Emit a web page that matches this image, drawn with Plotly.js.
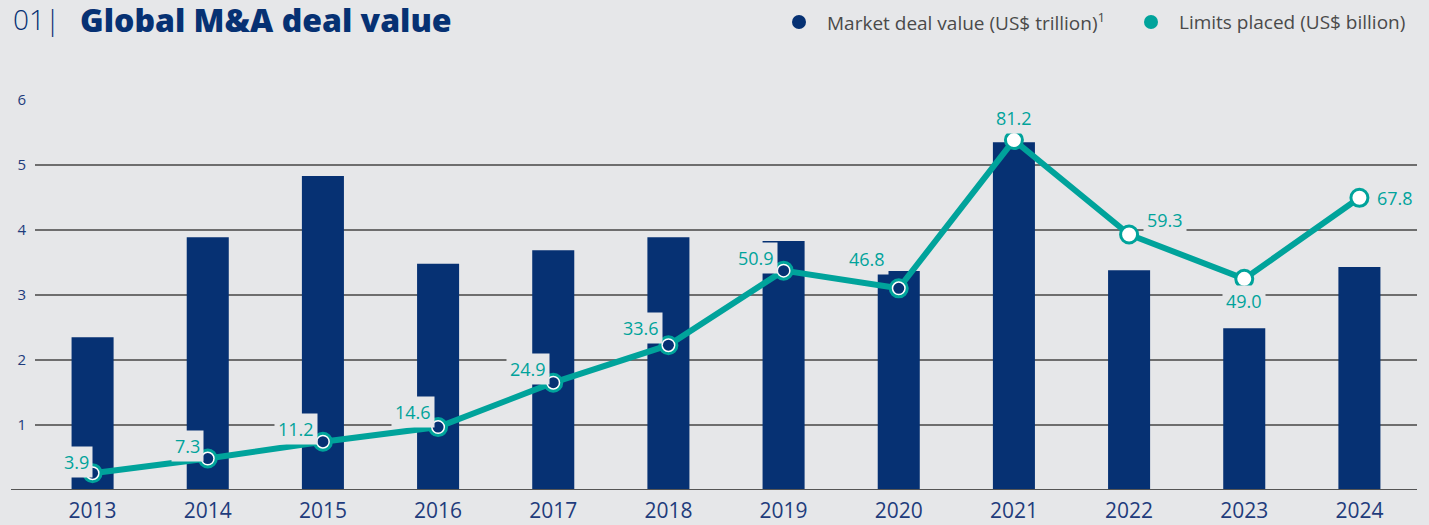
<!DOCTYPE html>
<html>
<head>
<meta charset="utf-8">
<script src="https://cdn.plot.ly/plotly-3.0.1.min.js"></script>
<style>
  html, body { margin: 0; padding: 0; background: #e6e7e9; }
  #chart { width: 1429px; height: 525px; }
</style>
</head>
<body>
<div id="chart"></div>
<script>
// ---- data ----
const years = ['2013','2014','2015','2016','2017','2018','2019','2020','2021','2022','2023','2024'];
const dealValue = [2.35, 3.89, 4.83, 3.48, 3.69, 3.89, 3.83, 3.37, 5.35, 3.38, 2.49, 3.43];   // US$ trillion
const limitsPlaced = [3.9, 7.3, 11.2, 14.6, 24.9, 33.6, 50.9, 46.8, 81.2, 59.3, 49.0, 67.8]; // US$ billion
const limitLabels = ['3.9','7.3','11.2','14.6','24.9','33.6','50.9','46.8','81.2','59.3','49.0','67.8'];
const yTicks = [1, 2, 3, 4, 5, 6];
const seriesNames = ['Market deal value (US$ trillion)<sup>1</sup>', 'Limits placed (US$ billion)'];
const chartNumber = '01|';
const chartTitle = 'Global M&amp;A deal value';

// ---- styles ----
const BG = '#e6e7e9';
const NAVY = '#063173';
const TEAL = '#00a39b';
const TXT_NAVY = '#1f3c7c';
const FILLED_COUNT = 8; // first points drawn with navy centres, the rest hollow
// label placement: [xanchor, dx (text edge offset px), dy (text centre offset px, up +)]
const labelPlace = [
  ['right', -3, 11], ['right', -7, 13], ['right', -8, 13], ['right', -6, 15],
  ['right', -6, 14], ['right', -8, 17], ['right', -9, 13], ['right', -13, 29],
  ['center', 0, 22], ['left', 17, 14], ['center', 0, -22], ['left', 17, 0]
];
const PAD = 3;

const L = 35, R = 12, T = 100, B = 35, W = 1429, H = 525;
const PW = W - L - R, PH = H - T - B;
const px = x => (x - L) / PW;
const py = y => (H - B - y) / PH;

const traces = [
  {
    type: 'bar', x: years, y: dealValue, width: 0.365,
    marker: { color: NAVY }, hoverinfo: 'skip', showlegend: false
  },
  {
    type: 'scatter', mode: 'lines+markers', x: years, y: limitsPlaced, yaxis: 'y2',
    line: { color: TEAL, width: 6 },
    marker: { size: 17, color: '#ffffff', line: { color: TEAL, width: 3 } },
    hoverinfo: 'skip', showlegend: false, cliponaxis: false
  }
];

const shapes = [
  { type: 'line', xref: 'paper', yref: 'y', x0: px(11), x1: 1, y0: 0, y1: 0,
    line: { color: '#555555', width: 2 }, layer: 'above' }
];
// navy centres of the filled points, placed on the data through the axes
limitsPlaced.slice(0, FILLED_COUNT).forEach((v, i) => {
  shapes.push({
    type: 'circle', xref: 'x', yref: 'y2', xsizemode: 'pixel', ysizemode: 'pixel',
    xanchor: i, yanchor: v, x0: -5.5, x1: 5.5, y0: -5.5, y1: 5.5,
    fillcolor: NAVY, line: { width: 0 }, layer: 'above'
  });
});

const annotations = limitsPlaced.map((v, i) => {
  const [xa, dx, dy] = labelPlace[i];
  let xs = dx;
  if (xa === 'right') xs = dx + PAD;
  if (xa === 'left') xs = dx - PAD;
  return {
    xref: 'x', yref: 'y2', x: i, y: v, text: limitLabels[i],
    showarrow: false, xanchor: xa, yanchor: 'middle', xshift: xs, yshift: dy,
    bgcolor: BG, borderpad: PAD,
    font: { family: 'Open Sans', size: 18, color: TEAL }
  };
});

// title
annotations.push({
  xref: 'paper', yref: 'paper', x: px(11), y: py(19), xanchor: 'left', yanchor: 'middle',
  text: chartNumber, showarrow: false,
  font: { family: 'Open Sans', size: 28, weight: 300, color: NAVY }
});
annotations.push({
  xref: 'paper', yref: 'paper', x: px(78), y: py(19), xanchor: 'left', yanchor: 'middle',
  text: chartTitle, showarrow: false,
  font: { family: 'Open Sans', size: 32, weight: 800, color: NAVY }
});

// legend
const legendItems = [
  { cx: 799, tx: 825, color: NAVY, name: seriesNames[0] },
  { cx: 1151, tx: 1177, color: TEAL, name: seriesNames[1] }
];
legendItems.forEach(it => {
  shapes.push({
    type: 'circle', xref: 'paper', yref: 'paper', xsizemode: 'pixel', ysizemode: 'pixel',
    xanchor: px(it.cx), yanchor: py(22), x0: -7, x1: 7, y0: -7, y1: 7,
    fillcolor: it.color, line: { width: 0 }
  });
  annotations.push({
    xref: 'paper', yref: 'paper', x: px(it.tx), y: py(22), xanchor: 'left', yanchor: 'middle',
    text: it.name, showarrow: false,
    font: { family: 'Open Sans', size: 19, color: '#4a4a4a' }
  });
});

const layout = {
  width: W, height: H,
  paper_bgcolor: BG, plot_bgcolor: BG,
  margin: { l: L, r: R, t: T, b: B },
  showlegend: false,
  xaxis: {
    type: 'category', range: [-0.5, 11.5], showgrid: false, zeroline: false,
    showline: false, ticks: '', ticklabelstandoff: 6,
    tickfont: { family: 'Open Sans', size: 21, color: TXT_NAVY },
    fixedrange: true
  },
  yaxis: {
    range: [0, 6], tickvals: yTicks, ticktext: yTicks.map(String),
    showgrid: true, gridcolor: '#6e6e6e', gridwidth: 1.5,
    zeroline: false, showline: false, ticks: '',
    ticklabelstandoff: 8,
    tickfont: { family: 'Open Sans', size: 15, color: TXT_NAVY }, fixedrange: true
  },
  yaxis2: { overlaying: 'y', range: [0, 90.5], visible: false, fixedrange: true },
  shapes: shapes,
  annotations: annotations
};

Plotly.newPlot('chart', traces, layout, { staticPlot: true, displayModeBar: false });
</script>
</body>
</html>
